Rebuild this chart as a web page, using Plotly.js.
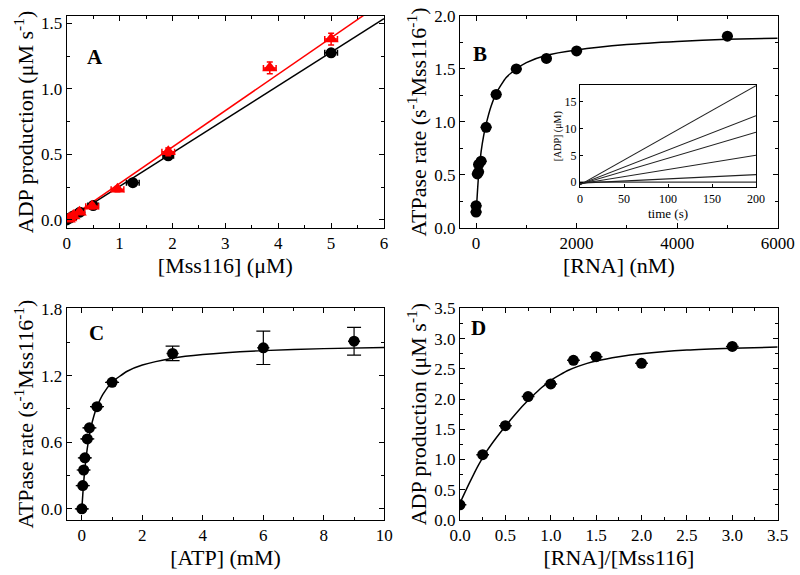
<!DOCTYPE html>
<html>
<head>
<meta charset="utf-8">
<script src="https://cdn.plot.ly/plotly-3.0.1.min.js"></script>
<style>html,body{margin:0;padding:0;background:#fff;}#chart{width:800px;height:575px;}</style>
</head>
<body>
<div id="chart"></div>
<script>
// ---------- Panel A ----------
const aBlackX = [0, 0.06, 0.12, 0.25, 0.5, 1.25, 1.92, 5.0];
const aBlackY = [0, 0.015, 0.03, 0.06, 0.11, 0.285, 0.49, 1.275];
const aBlackErrX = [0.05, 0.05, 0.05, 0.08, 0.1, 0.12, 0.1, 0.12];
const aRedX = [0.03, 0.06, 0.12, 0.24, 0.48, 0.96, 1.92, 3.84, 5.0];
const aRedY = [0.005, 0.015, 0.03, 0.06, 0.105, 0.235, 0.52, 1.16, 1.38];
const aRedErrX = [0.05, 0.05, 0.08, 0.1, 0.12, 0.12, 0.12, 0.12, 0.12];
const aRedErrY = [0.01, 0.01, 0.01, 0.015, 0.02, 0.02, 0.03, 0.045, 0.045];
const aBlackFitX = [0, 6];
const aBlackFitY = [0, 1.536];
const aRedFitX = [0, 6];
const aRedFitY = [0, 1.668];

// ---------- Panel B ----------
const bX = [0, 0, 25, 50, 50, 100, 200, 400, 800, 1400, 2000, 5000];
const bY = [0.15, 0.21, 0.51, 0.53, 0.60, 0.63, 0.95, 1.26, 1.50, 1.60, 1.67, 1.81];
const bFitX = [0, 50, 100, 150, 200, 300, 400, 600, 800, 1000, 1400, 2000, 3000, 4000, 5000, 6000];
const bFitY = [0.13, 0.50, 0.72, 0.87, 0.98, 1.15, 1.27, 1.42, 1.50, 1.56, 1.63, 1.68, 1.73, 1.76, 1.78, 1.79];

// ---------- Inset (B) ----------
const insetT = [0, 200];
const insetLine1 = [-0.5, 18.0];
const insetLine2 = [-0.4, 12.4];
const insetLine3 = [-0.4, 9.3];
const insetLine4 = [-0.3, 5.0];
const insetLine5 = [-0.2, 1.4];
const insetLine6 = [0, 0];

// ---------- Panel C ----------
const cX = [0, 0.03, 0.06, 0.1, 0.18, 0.25, 0.5, 1.0, 3.0, 6.0, 9.0];
const cY = [0.0, 0.21, 0.35, 0.46, 0.63, 0.73, 0.92, 1.14, 1.40, 1.45, 1.51];
const cErrY = [0, 0, 0, 0, 0, 0, 0, 0, 0.065, 0.15, 0.125];
const cFitX = [0, 0.05, 0.1, 0.15, 0.2, 0.3, 0.4, 0.5, 0.7, 1, 1.5, 2, 3, 4, 6, 8, 10];
const cFitY = [0, 0.205, 0.361, 0.483, 0.581, 0.731, 0.838, 0.919, 1.033, 1.14, 1.239, 1.295, 1.357, 1.39, 1.425, 1.443, 1.454];

// ---------- Panel D ----------
const dX = [0, 0.25, 0.5, 0.75, 1.0, 1.25, 1.5, 2.0, 3.0];
const dY = [0.25, 1.08, 1.56, 2.04, 2.25, 2.64, 2.70, 2.59, 2.87];
const dFitX = [0, 0.1, 0.2, 0.3, 0.4, 0.5, 0.6, 0.7, 0.8, 0.9, 1.0, 1.1, 1.2, 1.3, 1.4, 1.5, 1.75, 2.0, 2.5, 3.0, 3.5];
const dFitY = [0.28, 0.60, 0.90, 1.15, 1.36, 1.55, 1.73, 1.90, 2.05, 2.19, 2.31, 2.40, 2.48, 2.54, 2.59, 2.63, 2.70, 2.75, 2.81, 2.84, 2.86];

const FONT = '"Liberation Serif", "Times New Roman", serif';
const BLACK = '#000000';
const RED = '#ff0000';
const TICK = 17;
const TITLE = 22;

function circles(x, y, xa, ya, errx, erry) {
  const t = {x: x, y: y, xaxis: xa, yaxis: ya, type: 'scatter', mode: 'markers',
    marker: {symbol: 'circle', size: 11, color: BLACK}, showlegend: false};
  if (errx !== undefined) t.error_x = {type: 'constant', value: errx, color: BLACK, thickness: 1.5, width: 0};
  if (erry) t.error_y = {type: 'data', array: erry, visible: true, color: BLACK, thickness: 1.2, width: 7};
  return t;
}
function fit(x, y, xa, ya, color, shape) {
  return {x: x, y: y, xaxis: xa, yaxis: ya, type: 'scatter', mode: 'lines',
    line: {color: color || BLACK, width: 1.5, shape: shape || 'linear', smoothing: 0.6},
    showlegend: false};
}

const data = [
  // A
  fit(aBlackFitX, aBlackFitY, 'x', 'y', BLACK),
  fit(aRedFitX, aRedFitY, 'x', 'y', RED),
  {x: aBlackX, y: aBlackY, xaxis: 'x', yaxis: 'y', type: 'scatter', mode: 'markers',
    marker: {symbol: 'circle', size: 11, color: BLACK},
    error_x: {type: 'data', array: aBlackErrX, color: BLACK, thickness: 1.5, width: 3},
    showlegend: false},
  {x: aRedX, y: aRedY, xaxis: 'x', yaxis: 'y', type: 'scatter', mode: 'markers',
    marker: {symbol: 'triangle-up', size: 13, color: RED},
    error_x: {type: 'data', array: aRedErrX, color: RED, thickness: 1.5, width: 3},
    error_y: {type: 'data', array: aRedErrY, color: RED, thickness: 1.5, width: 3},
    showlegend: false},
  // B
  fit(bFitX, bFitY, 'x2', 'y2', BLACK, 'spline'),
  circles(bX, bY, 'x2', 'y2', 110),
  // inset
  fit(insetT, insetLine6, 'x5', 'y5', '#333'),
  fit(insetT, insetLine5, 'x5', 'y5', '#222'),
  fit(insetT, insetLine4, 'x5', 'y5', '#222'),
  fit(insetT, insetLine3, 'x5', 'y5', '#222'),
  fit(insetT, insetLine2, 'x5', 'y5', '#222'),
  fit(insetT, insetLine1, 'x5', 'y5', '#222'),
  // C
  fit(cFitX, cFitY, 'x3', 'y3', BLACK, 'spline'),
  circles(cX, cY, 'x3', 'y3', 0.2, cErrY),
  // D
  fit(dFitX, dFitY, 'x4', 'y4', BLACK, 'spline'),
  circles(dX, dY, 'x4', 'y4', 0.07)
];
for (let i = 6; i <= 11; i++) data[i].line.width = 1.1;

function axis(o) {
  const base = {
    showline: true, linecolor: BLACK, linewidth: 1, mirror: 'ticks',
    ticks: 'inside', ticklen: 5, tickwidth: 1, tickcolor: BLACK,
    showgrid: false, zeroline: false,
    tickfont: {family: FONT, size: TICK, color: BLACK},
    minor: {ticks: 'inside', ticklen: 3, tickwidth: 1, tickcolor: BLACK, showgrid: false}
  };
  const r = Object.assign({}, base, o);
  r.title = {text: o.titleText, font: {family: FONT, size: TITLE, color: BLACK}, standoff: o.standoff};
  delete r.titleText; delete r.standoff;
  r.minor = Object.assign({}, base.minor, {dtick: o.minorDtick});
  delete r.minorDtick;
  return r;
}

const layout = {
  width: 800, height: 575,
  margin: {l: 0, r: 0, t: 0, b: 0},
  paper_bgcolor: '#ffffff', plot_bgcolor: 'rgba(0,0,0,0)',
  font: {family: FONT, color: BLACK},
  showlegend: false,
  xaxis: axis({domain: [0.0834, 0.48], anchor: 'y', range: [0, 6], dtick: 1, tick0: 0, minorDtick: 0.5,
    titleText: '[Mss116] (μM)', standoff: 1}),
  yaxis: axis({domain: [0.6035, 0.9722], anchor: 'x', range: [-0.061, 1.556], dtick: 0.5, tick0: 0, tickformat: '.1f', minorDtick: 0.25,
    titleText: 'ADP production (μM s<sup>-1</sup>)', standoff: 1}),
  xaxis2: axis({domain: [0.575, 0.9721], anchor: 'y2', range: [-320, 6000], dtick: 2000, tick0: 0, minorDtick: 1000,
    titleText: '[RNA] (nM)', standoff: 1}),
  yaxis2: axis({domain: [0.6035, 0.9722], anchor: 'x2', range: [0, 2.0], dtick: 0.5, tick0: 0, tickformat: '.1f', minorDtick: 0.25,
    titleText: 'ATPase rate (s<sup>-1</sup>Mss116<sup>-1</sup>)', standoff: 1}),
  xaxis3: axis({domain: [0.0834, 0.4804], anchor: 'y3', range: [-0.5, 10], dtick: 2, tick0: 0, minorDtick: 1,
    titleText: '[ATP] (mM)', standoff: 1}),
  yaxis3: axis({domain: [0.0957, 0.4638], anchor: 'x3', range: [-0.1, 1.806], dtick: 0.6, tick0: 0, tickformat: '.1f', minorDtick: 0.3,
    titleText: 'ATPase rate (s<sup>-1</sup>Mss116<sup>-1</sup>)', standoff: 1}),
  xaxis4: axis({domain: [0.575, 0.9721], anchor: 'y4', range: [0, 3.5], dtick: 0.5, tick0: 0, tickformat: '.1f', minorDtick: 0.25,
    titleText: '[RNA]/[Mss116]', standoff: 1}),
  yaxis4: axis({domain: [0.0957, 0.4638], anchor: 'x4', range: [0, 3.5], dtick: 0.5, tick0: 0, tickformat: '.1f', minorDtick: 0.25,
    titleText: 'ADP production (μM s<sup>-1</sup>)', standoff: 1}),
  xaxis5: {domain: [0.725, 0.945], anchor: 'y5', range: [0, 200], dtick: 50, tick0: 0,
    showline: true, linecolor: BLACK, linewidth: 1, mirror: true, ticks: 'inside', ticklen: 3, tickcolor: BLACK,
    showgrid: false, zeroline: false, tickfont: {family: FONT, size: 12, color: BLACK},
    title: {text: 'time (s)', font: {family: FONT, size: 13, color: BLACK}, standoff: 0}},
  yaxis5: {domain: [0.674, 0.852], anchor: 'x5', range: [-1, 18.1], dtick: 5, tick0: 0,
    showline: true, linecolor: BLACK, linewidth: 1, mirror: true, ticks: 'inside', ticklen: 3, tickcolor: BLACK,
    showgrid: false, zeroline: false, tickfont: {family: FONT, size: 12, color: BLACK},
    title: {text: '[ADP] (μM)', font: {family: FONT, size: 10, color: BLACK}, standoff: 1}},
  annotations: [
    {text: '<b>A</b>', x: 85 / 800, y: 1 - 43 / 575, xref: 'paper', yref: 'paper', showarrow: false, font: {family: FONT, size: 21, color: BLACK}},
    {text: '<b>B</b>', x: 480 / 800, y: 1 - 40 / 575, xref: 'paper', yref: 'paper', showarrow: false, font: {family: FONT, size: 21, color: BLACK}},
    {text: '<b>C</b>', x: 87 / 800, y: 1 - 333 / 575, xref: 'paper', yref: 'paper', showarrow: false, font: {family: FONT, size: 21, color: BLACK}},
    {text: '<b>D</b>', x: 478 / 800, y: 1 - 328 / 575, xref: 'paper', yref: 'paper', showarrow: false, font: {family: FONT, size: 21, color: BLACK}}
  ]
};

Plotly.newPlot('chart', data, layout, {displayModeBar: false, staticPlot: true});
</script>
</body>
</html>
